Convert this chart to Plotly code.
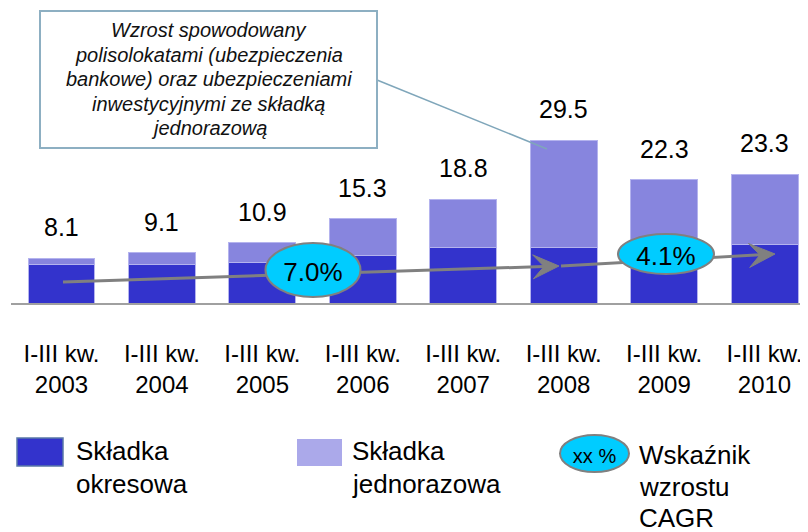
import plotly.graph_objects as go
import math

# ---------------- data ----------------
years = ["2003", "2004", "2005", "2006", "2007", "2008", "2009", "2010"]
categories = ["I-III kw.<br>" + y for y in years]
skladka_okresowa = [7.0, 7.0, 7.3, 8.6, 10.0, 10.0, 10.3, 10.6]
skladka_jednorazowa = [1.1, 2.1, 3.6, 6.7, 8.8, 19.5, 12.0, 12.7]
total_labels = [8.1, 9.1, 10.9, 15.3, 18.8, 29.5, 22.3, 23.3]
cagr_labels = ["7.0%", "4.1%"]
note_lines = ["Wzrost spowodowany", "polisolokatami (ubezpieczenia",
              "bankowe) oraz ubezpieczeniami", "inwestycyjnymi ze składką",
              "jednorazową"]

# ---------------- geometry (page pixels; page body has an 8px margin) ----------------
OFF = 8
PAGE_W, PAGE_H = 808, 532
W, H = PAGE_W - OFF, PAGE_H - OFF
FONT = "Liberation Sans, Arial, sans-serif"
DARK = "#3333CC"
LIGHT = "#8785DE"
LIGHT_LEG = "#ABA9EA"
CYAN = "#00CCFF"
GRAY = "#808080"

plot_left = 11          # page px
plot_bottom = 303       # page px
px_per_x = 100.43
x0_px = 61.5            # page px of first category centre
px_per_y = 5.52

def px(x):
    return (x - OFF) / W

def py(y):
    return 1 - (y - OFF) / H

xs = list(range(len(categories)))

fig = go.Figure()
fig.add_trace(go.Bar(
    x=xs, y=skladka_okresowa, name="Składka okresowa",
    marker=dict(color=DARK, line=dict(color="#B4B3EE", width=1)),
    width=0.667, hoverinfo="skip"))
fig.add_trace(go.Bar(
    x=xs, y=skladka_jednorazowa, name="Składka jednorazowa",
    marker=dict(color=LIGHT, line=dict(color="#B4B3EE", width=1)),
    width=0.667, hoverinfo="skip"))

annotations = []
for i, t in enumerate(total_labels):
    annotations.append(dict(
        x=i, y=t, xref="x", yref="y", text=f"{t:.1f}", showarrow=False,
        yanchor="middle", yshift=31,
        font=dict(family=FONT, size=25, color="#000000")))

shapes = []

def arrow(sx, sy, tx, ty, length=26, half=12, notch=15):
    dx, dy = tx - sx, ty - sy
    L = math.hypot(dx, dy)
    ux, uy = dx / L, dy / L
    nx, ny = -uy, ux
    bx, by = tx - notch * ux, ty - notch * uy
    shapes.append(dict(type="line", xref="paper", yref="paper",
                       x0=px(sx), y0=py(sy), x1=px(bx), y1=py(by),
                       line=dict(color=GRAY, width=3), layer="above"))
    pts = [(tx, ty),
           (tx - length * ux + half * nx, ty - length * uy + half * ny),
           (bx, by),
           (tx - length * ux - half * nx, ty - length * uy - half * ny)]
    path = "M " + " L ".join(f"{px(a):.5f},{py(b):.5f}" for a, b in pts) + " Z"
    shapes.append(dict(type="path", xref="paper", yref="paper", path=path,
                       fillcolor=GRAY, line=dict(color=GRAY, width=1), layer="above"))

arrow(63, 282, 559, 266)
arrow(561, 266, 775, 254)

def ellipse(cx, cy, w, h, text, size):
    shapes.append(dict(type="circle", xref="paper", yref="paper",
                       x0=px(cx - w / 2), x1=px(cx + w / 2),
                       y0=py(cy + h / 2), y1=py(cy - h / 2),
                       fillcolor=CYAN, line=dict(color=GRAY, width=2), layer="above",
                       label=dict(text=text, textposition="middle center",
                                  font=dict(family=FONT, size=size, color="#000000"))))

ellipse(313, 270, 95, 54, cagr_labels[0], 26)
ellipse(666, 254, 96, 40, cagr_labels[1], 26)

# callout box
shapes.append(dict(type="line", xref="paper", yref="paper",
                   x0=px(377), y0=py(80), x1=px(547), y1=py(149),
                   line=dict(color="#7FA6BA", width=1.5), layer="above"))
shapes.append(dict(type="rect", xref="paper", yref="paper",
                   x0=px(40), x1=px(377), y0=py(148), y1=py(11),
                   fillcolor="white", line=dict(color="#8DAFC2", width=2), layer="above"))
for k, line in enumerate(note_lines):
    annotations.append(dict(
        x=px(208.5), y=py(30 + 24.5 * k), xref="paper", yref="paper", showarrow=False,
        xanchor="center", yanchor="middle", align="center",
        text=f"<i>{line}</i>",
        font=dict(family=FONT, size=20, color="#111111")))

# legend
shapes.append(dict(type="rect", xref="paper", yref="paper",
                   x0=px(17), x1=px(63), y0=py(466), y1=py(438),
                   fillcolor=DARK, line=dict(color="#5A78A8", width=1.5), layer="above"))
shapes.append(dict(type="rect", xref="paper", yref="paper",
                   x0=px(297), x1=px(342), y0=py(466), y1=py(439),
                   fillcolor=LIGHT_LEG, line=dict(width=0), layer="above"))
ellipse(594.5, 453.5, 69, 37, "xx %", 20)

legend_items = [(74, 451, 33, ["Składka", "okresowa"]),
                (350, 451, 33, ["Składka", "jednorazowa"]),
                (637, 455, 31.5, ["Wskaźnik", "wzrostu", "CAGR"])]
for xt, y0, step, lines in legend_items:
    for k, txt in enumerate(lines):
        annotations.append(dict(
            x=px(xt), y=py(y0 + step * k), xref="paper", yref="paper", showarrow=False,
            xanchor="left", yanchor="middle", align="left", text=txt,
            font=dict(family=FONT, size=26, color="#000000")))

fig.update_layout(
    width=W, height=H,
    margin=dict(l=0, r=0, t=0, b=0, pad=0),
    paper_bgcolor="white", plot_bgcolor="white",
    barmode="stack", showlegend=False,
    shapes=shapes, annotations=annotations,
    xaxis=dict(
        domain=[(plot_left - OFF) / W, 1],
        range=[(plot_left - x0_px) / px_per_x, (PAGE_W - x0_px) / px_per_x],
        tickmode="array", tickvals=xs, ticktext=categories,
        showline=True, linecolor="#A0A0A0", linewidth=2,
        showgrid=False, zeroline=False, ticks="",
        ticklabelstandoff=28,
        tickfont=dict(family=FONT, size=24, color="#000000")),
    yaxis=dict(
        domain=[(PAGE_H - plot_bottom) / H, 1],
        range=[0, (plot_bottom - OFF) / px_per_y],
        visible=False, showgrid=False, zeroline=False),
)

fig.write_html("out.html")
